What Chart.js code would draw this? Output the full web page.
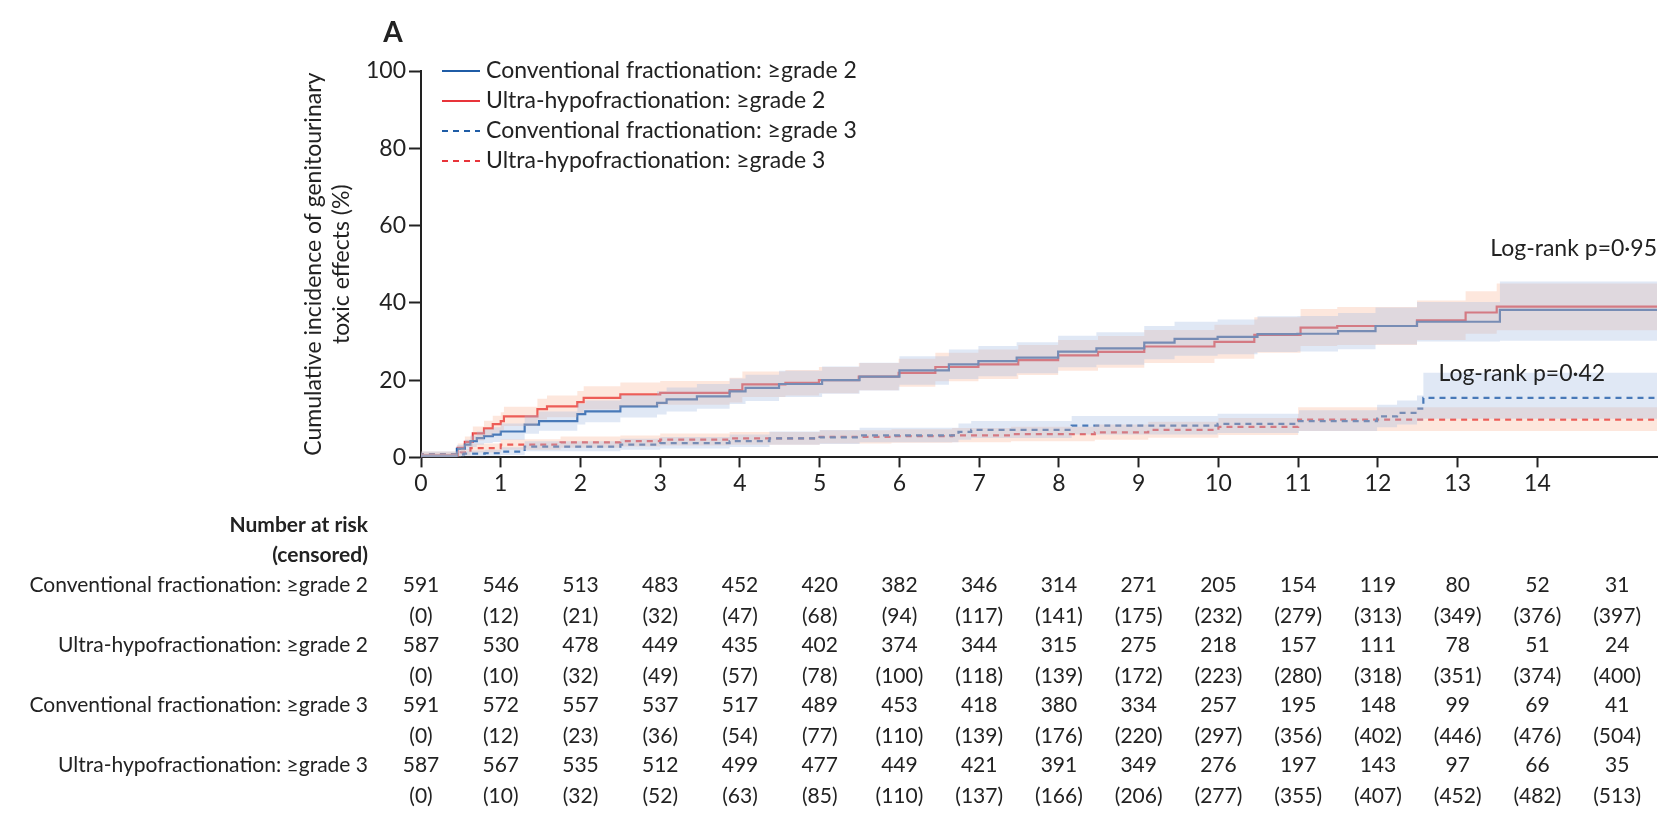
<!DOCTYPE html>
<html>
<head>
<meta charset="utf-8">
<script src="https://cdn.jsdelivr.net/npm/chart.js@4"></script>
<style>
  html, body { margin: 0; padding: 0; background: #fff; }
  #wrap { width: 1674px; height: 820px; }
</style>
</head>
<body>
<div id="wrap"><canvas id="myChart" width="1674" height="820"></canvas></div>
<script>
// years and cumulative incidence (%)
var convG2T = [0,0.45,0.55,0.62,0.7,0.79,0.9,1.0,1.3,1.48,1.96,2.06,2.5,2.96,3.08,3.46,3.87,4.07,4.49,5.03,5.5,6.0,6.62,6.99,7.47,7.99,8.47,9.07,9.45,9.99,10.49,10.99,11.5,11.97,12.49,13.53,15.03,15.5];
var convG2 = [0,0.4,2.2,3.3,4.2,5,5.5,5.9,6.7,8.5,9.4,11.2,11.9,13.2,14.1,15,15.8,17.1,18,19,20,20.9,22.5,24.1,24.9,25.8,27.4,28.2,29.7,30.7,31.2,31.9,32,32.7,34,35.1,38.2,38.2];
var convG2Lo = [0,0,1.2,2,2.7,3.3,3.7,4,4.6,6.1,6.9,8.5,9.1,10.3,11.1,11.9,12.6,13.8,14.6,15.6,16.5,17.3,18.8,20.3,21,21.8,23.3,24,25.4,26.3,26.7,27.3,27.4,28,29.2,30,30.2,30.2];
var convG2Hi = [0,0.8,3.2,4.6,5.7,6.7,7.3,7.8,8.8,10.9,11.9,13.9,14.7,16.1,17.1,18.1,19,20.4,21.4,22.4,23.5,24.5,26.2,27.9,28.8,29.8,31.5,32.4,34,35.1,35.7,36.5,36.6,37.4,38.8,40.2,45.5,45.5];

var ultraG2T = [0,0.46,0.55,0.65,0.79,0.9,1.0,1.04,1.46,1.58,1.96,2.04,2.5,3.0,3.87,4.03,4.57,4.99,5.49,5.99,6.45,6.99,7.49,7.99,8.49,9.07,9.95,10.45,11.03,11.49,12.49,13.1,13.49,14.45,15.5];
var ultraG2 = [0,0.5,2.5,4,6.2,7.5,8.6,9.4,10.6,12.5,13.2,14.3,15.4,16.3,16.7,17.4,18.9,19.3,20,20.9,21.9,23.4,24.1,25.2,26.4,27.3,28.7,29.9,31.7,33.6,34,35.5,37.5,39,39];
var ultraG2Lo = [0,0,1.4,2.6,4.4,5.5,6.4,7.1,8.1,9.8,10.4,11.4,12.4,13.2,13.6,14.2,15.6,16,16.6,17.4,18.3,19.7,20.3,21.3,22.4,23.2,24.4,25.5,27.1,28.8,29.1,30.4,32,32.9,32.9];
var ultraG2Hi = [0,1,3.6,5.4,8,9.5,10.8,11.7,13.1,15.2,16,17.2,18.4,19.4,19.8,20.6,22.2,22.6,23.4,24.4,25.5,27.1,27.9,29.1,30.4,31.4,33,34.3,36.3,38.4,38.9,40.6,43,45,45];

var convG3T = [0,0.54,0.8,1.0,1.3,2.5,3.0,3.87,4.37,5.0,5.5,6.74,6.9,8.16,9.99,11.01,11.99,12.24,12.49,12.57,15.03,15.5];
var convG3 = [0,0.8,1,1.1,1.5,2.8,3.3,3.7,4.2,4.9,5.2,5.7,6.6,7.1,8.2,8.7,9.4,10.6,11.5,12.6,15.4,15.4];
var convG3Lo = [0,0.2,0.3,0.4,0.6,1.6,2,2.3,2.7,3.3,3.5,3.9,4.6,5,5.9,6.3,6.8,7.8,8.5,9.4,10,10];
var convG3Hi = [0,1.5,1.8,2,2.6,4.2,4.8,5.3,5.9,6.7,7.1,7.7,8.8,9.4,10.7,11.3,12.2,13.6,14.7,16,21.9,21.9];

var ultraG3T = [0,0.5,0.62,1.0,1.75,2.5,3.0,3.87,5.0,5.9,6.66,7.4,8.45,9.12,10.0,11.0,12.97,15.5];
var ultraG3 = [0,0.8,1.3,2.4,3.3,3.9,4.2,4.6,4.9,5.3,5.5,5.7,6.0,6.5,7.1,7.9,9.8,9.8];
var ultraG3Lo = [0,0.2,0.5,1.3,2,2.5,2.8,3.1,3.3,3.6,3.8,3.9,4.2,4.6,5.1,5.8,6.8,6.8];
var ultraG3Hi = [0,1.5,2.2,3.6,4.7,5.4,5.7,6.2,6.6,7,7.3,7.6,7.9,8.5,9.2,10.2,13,13];

var seriesNames = ["Conventional fractionation: \u2265grade 2", "Ultra-hypofractionation: \u2265grade 2",
                   "Conventional fractionation: \u2265grade 3", "Ultra-hypofractionation: \u2265grade 3"];

// number at risk / censored at years 0..15
var riskYears = [0,1,2,3,4,5,6,7,8,9,10,11,12,13,14,15];
var riskConvG2 = [591,546,513,483,452,420,382,346,314,271,205,154,119,80,52,31];
var censConvG2 = [0,12,21,32,47,68,94,117,141,175,232,279,313,349,376,397];
var riskUltraG2 = [587,530,478,449,435,402,374,344,315,275,218,157,111,78,51,24];
var censUltraG2 = [0,10,32,49,57,78,100,118,139,172,223,280,318,351,374,400];
var riskConvG3 = [591,572,557,537,517,489,453,418,380,334,257,195,148,99,69,41];
var censConvG3 = [0,12,23,36,54,77,110,139,176,220,297,356,402,446,476,504];
var riskUltraG3 = [587,567,535,512,499,477,449,421,391,349,276,197,143,97,66,35];
var censUltraG3 = [0,10,32,52,63,85,110,137,166,206,277,355,407,452,482,513];

var BLUE = "#1f5ca6", RED = "#e8343a";
var BLUE_BAND = "rgba(160,185,225,0.32)", RED_BAND = "rgba(250,180,150,0.32)";
var FONT = "Lato";

function pts(t, v) { return t.map(function(x, i){ return {x: x, y: v[i]}; }); }

function band(t, lo, hi, color) {
  return [
    { data: pts(t, lo), stepped: 'after', borderWidth: 0, pointRadius: 0, fill: false, band: true },
    { data: pts(t, hi), stepped: 'after', borderWidth: 0, pointRadius: 0, fill: '-1', backgroundColor: color, band: true }
  ];
}
function line(t, v, color, dash) {
  return { data: pts(t, v), stepped: 'after', borderColor: color, borderWidth: 2.2, borderDash: dash, pointRadius: 0, fill: false };
}

var datasets = [].concat(
  band(convG2T, convG2Lo, convG2Hi, BLUE_BAND),
  band(ultraG2T, ultraG2Lo, ultraG2Hi, RED_BAND),
  band(convG3T, convG3Lo, convG3Hi, BLUE_BAND),
  band(ultraG3T, ultraG3Lo, ultraG3Hi, RED_BAND),
  [line(convG2T, convG2, BLUE, []), line(ultraG2T, ultraG2, RED, []),
   line(convG3T, convG3, BLUE, [6, 5]), line(ultraG3T, ultraG3, RED, [6, 5])]
);

var extras = {
  id: 'extras',
  afterDraw: function(chart) {
    var c = chart.ctx, xs = chart.scales.x, ys = chart.scales.y;
    c.save();
    c.fillStyle = "#222";
    c.textBaseline = "middle";
    // panel letter
    c.font = "bold 28px " + FONT;
    c.textAlign = "center";
    c.fillText("A", 393, 33);
    // legend
    c.font = "23px " + FONT;
    c.textAlign = "left";
    var cols = [BLUE, RED, BLUE, RED];
    for (var i = 0; i < 4; i++) {
      var yy = 71 + i * 30;
      c.strokeStyle = cols[i];
      c.lineWidth = 2.2;
      c.setLineDash(i < 2 ? [] : [6, 5]);
      c.beginPath(); c.moveTo(442, yy); c.lineTo(480, yy); c.stroke();
      c.fillText(seriesNames[i], 486, yy);
    }
    c.setLineDash([]);
    // log-rank
    c.textAlign = "right";
    c.fillText("Log-rank p=0\u00b795", xs.getPixelForValue(15.5), ys.getPixelForValue(54));
    c.fillText("Log-rank p=0\u00b742", xs.getPixelForValue(14.85), ys.getPixelForValue(21.8));
    // number at risk table
    c.font = "bold 21px " + FONT;
    c.fillText("Number at risk", 368, 525);
    c.fillText("(censored)", 368, 555);
    var rows = [[riskConvG2, censConvG2], [riskUltraG2, censUltraG2], [riskConvG3, censConvG3], [riskUltraG3, censUltraG3]];
    c.font = "21px " + FONT;
    rows.forEach(function(r, k) {
      var y1 = 585 + k * 60, y2 = y1 + 31;
      c.textAlign = "right";
      c.fillText(seriesNames[k], 368, y1);
      c.textAlign = "center";
      riskYears.forEach(function(yr, j) {
        var px = xs.getPixelForValue(yr);
        c.fillText(String(r[0][j]), px, y1);
        c.fillText("(" + r[1][j] + ")", px, y2);
      });
    });
    c.restore();
  }
};

var ctx = document.getElementById("myChart");
var myChart = new Chart(ctx, {
  type: 'line',
  data: { datasets: datasets },
  options: {
    responsive: false,
    animation: false,
    layout: { padding: { left: 300, top: 71, right: 17, bottom: 321 } },
    plugins: { legend: { display: false }, tooltip: { enabled: false } },
    scales: {
      x: {
        type: 'linear', min: 0, max: 15.5,
        ticks: { stepSize: 1, color: "#222", font: { family: FONT, size: 23 }, padding: 2 },
        afterBuildTicks: function(s) { s.ticks = s.ticks.filter(function(t){ return Number.isInteger(t.value); }); },
        grid: { drawOnChartArea: false, tickLength: 10, tickWidth: 2, color: "#222" },
        border: { color: "#222", width: 2 }
      },
      y: {
        min: 0, max: 100,
        ticks: { stepSize: 20, color: "#222", font: { family: FONT, size: 23 }, padding: 3 },
        afterFit: function(s) { s.width = 121; },
        grid: { drawOnChartArea: false, tickLength: 12, tickWidth: 2, color: "#222" },
        border: { color: "#222", width: 2 },
        title: { display: true, text: ["Cumulative incidence of genitourinary", "toxic effects (%)"],
                 color: "#222", font: { family: FONT, size: 23 }, padding: 0 }
      }
    }
  },
  plugins: [extras]
});
</script>
</body>
</html>
